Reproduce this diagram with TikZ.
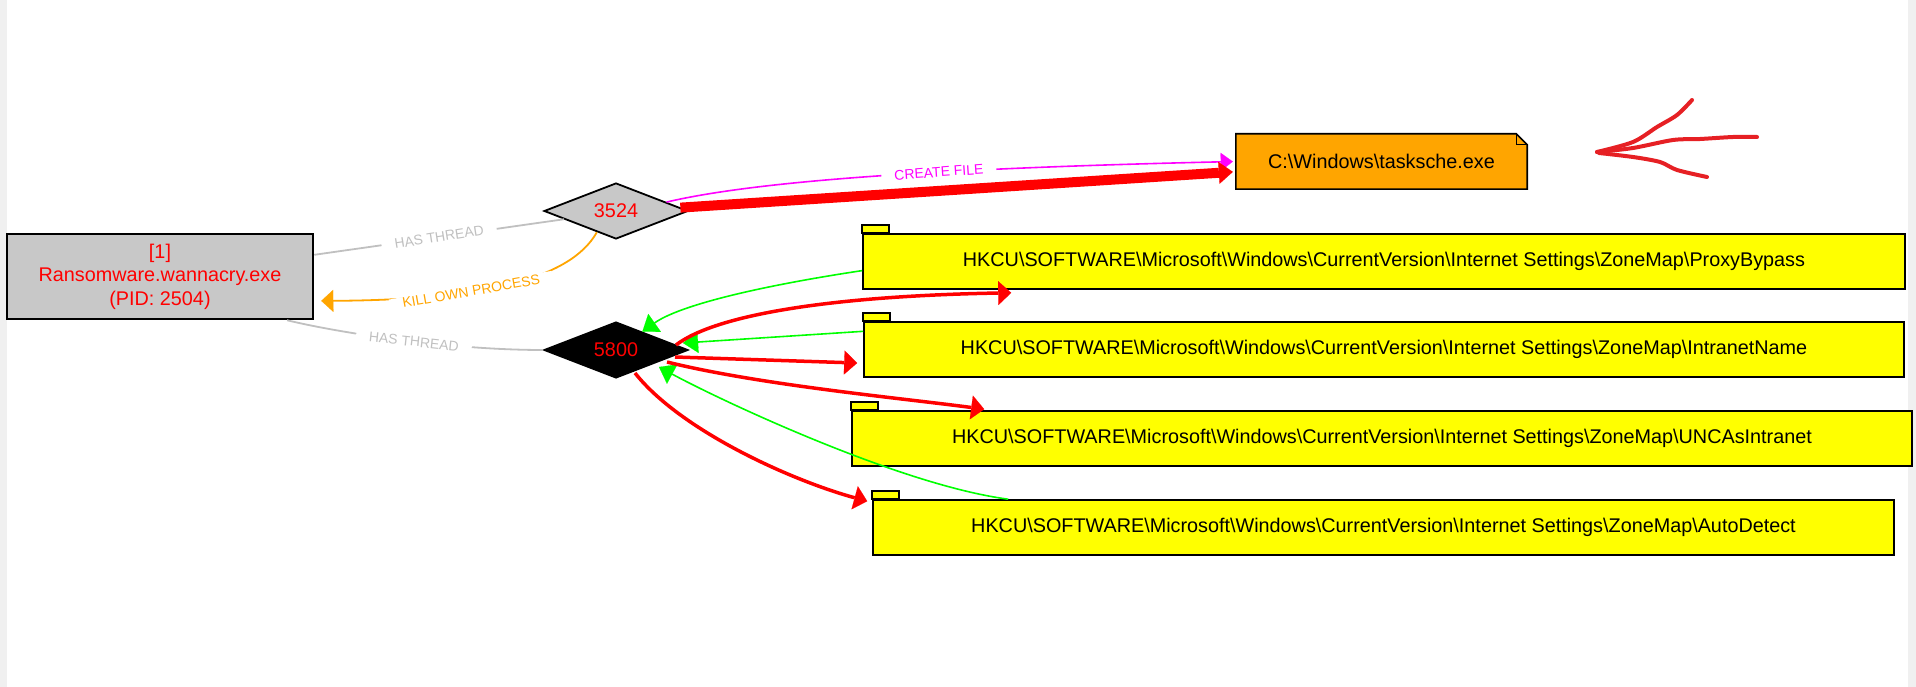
\documentclass[tikz,border=0pt]{standalone}
\usepackage{fontspec}
\setmainfont{Liberation Sans}
\usetikzlibrary{arrows.meta,shapes.geometric,backgrounds,calc}

\definecolor{procgray}{RGB}{200,200,200}
\definecolor{edgegray}{RGB}{192,192,192}
\definecolor{taskorange}{RGB}{255,165,0}
\definecolor{scribred}{RGB}{230,32,36}
\definecolor{sidegray}{RGB}{240,240,240}
\definecolor{keyyellow}{RGB}{255,255,0}
\definecolor{createpink}{RGB}{255,0,255}
\definecolor{readgreen}{RGB}{0,255,0}
\definecolor{writered}{RGB}{255,0,0}

\newcommand{\zonemap}{HKCU\textbackslash SOFTWARE\textbackslash Microsoft\textbackslash Windows\textbackslash CurrentVersion\textbackslash Internet Settings\textbackslash ZoneMap\textbackslash}

\begin{document}
\begin{tikzpicture}[x=1pt,y=1pt,yscale=-1,xscale=1,
  every node/.style={font=\fontsize{19.8}{23.5}\selectfont},
  procbox/.style={draw=black,line width=2.5pt,fill=procgray,text=writered,align=center,minimum width=306pt,minimum height=85pt,inner sep=0pt},
  thread/.style={diamond,draw=black,line width=1.8pt,aspect=2.57,minimum width=144pt,minimum height=56pt,inner sep=0pt,text=writered},
  regbox/.style={draw=black,line width=1.6pt,fill=keyyellow,minimum height=55pt,inner sep=0pt},
  filebox/.style={minimum width=291pt,minimum height=55pt,inner sep=0pt},
  elabel/.style={font=\fontsize{14}{16}\selectfont,fill=white,inner xsep=13pt,inner ysep=1pt},
  hasthread/.style={draw=edgegray,line width=1.8pt},
  writes/.style={draw=writered,line width=3.5pt,-{Triangle[length=13pt,width=24pt,line width=0.1pt]}},
  reads/.style={draw=readgreen,line width=1.6pt,-{Triangle[length=15pt,width=22pt,line width=0.1pt]}}
]
\useasboundingbox (0,0) rectangle (1916,687);

%Shape: side strips
\fill[sidegray] (0,0) rectangle (7,687);
\fill[sidegray] (1908,0) rectangle (1916,687);

%Shape: process box
\node (proc) [procbox] at (160,276.5) {[1]\\Ransomware.wannacry.exe\\(PID: 2504)};

%Shape: threads
\node (t3524) [thread,fill=procgray] at (616,211) {3524};
\node (t5800) [thread,fill=black] at (616,350) {5800};

%Shape: file note
\node (task) [filebox] at (1381.5,161.5) {C:\textbackslash Windows\textbackslash tasksche.exe};
\begin{scope}[on background layer]
\draw[fill=taskorange,line width=1.6pt] (task.south west) -- (task.north west) -- ($(task.north east)+(-11,0)$) -- ($(task.north east)+(0,11)$) -- (task.south east) -- cycle;
\draw[line width=1.2pt] ($(task.north east)+(-11,0)$) -- ($(task.north east)+(-11,11)$) -- ($(task.north east)+(0,11)$);
\end{scope}

%Shape: registry keys
\node (rproxy) [regbox,minimum width=1042pt] at (1384,261.5) {\zonemap ProxyBypass};
\node (rintra) [regbox,minimum width=1040pt] at (1384,349.5) {\zonemap IntranetName};
\node (runc) [regbox,minimum width=1060pt] at (1382,438.5) {\zonemap UNCAsIntranet};
\node (rauto) [regbox,minimum width=1021pt] at (1383.5,527.5) {\zonemap AutoDetect};
\foreach \reg in {rproxy,rintra,runc,rauto}
  \draw[fill=keyyellow,line width=1.6pt] (\reg.north west) rectangle ($(\reg.north west)+(27,-8)$);

%Lines: process and threads
\draw[hasthread] (proc.8) -- node[elabel,rotate=9,text=edgegray] {HAS THREAD} (t3524.189);
\draw[hasthread] (proc.341.9) .. controls (340,333) and (450,350) .. node[elabel,pos=0.55,rotate=-6,text=edgegray] {HAS THREAD} (t5800.west);
\draw[draw=taskorange,line width=1.8pt,-{Triangle[length=12pt,width=22pt,line width=0.1pt]},shorten >=7pt] (t3524.228) .. controls (570,280) and (480,300) .. node[elabel,pos=0.62,rotate=10,text=taskorange] {KILL OWN PROCESS} (proc.351.3);

%Lines: file
\draw[draw=createpink,line width=1.6pt,-{Triangle[length=12pt,width=18pt,line width=0.1pt]},shorten >=3pt] (t3524.10) .. controls (760,180) and (950,168) .. node[elabel,pos=0.6,rotate=4,text=createpink] {CREATE FILE} (task.west);
\draw[draw=writered,line width=10pt,-{Triangle[length=14pt,width=22pt,line width=0.1pt]},shorten >=3pt] (t3524.3) -- (task.184.5);

%Lines: registry reads
\draw[reads] (rproxy.181.4) .. controls (760,286) and (680,305) .. (t5800.35);
\draw[reads] (rintra.178.8) -- ($(t5800.center)+(67,-7)$);
\draw[reads] ($(rauto.north west)+(136,0)$) .. controls (900,485) and (720,400) .. ($(t5800.center)+(43,17)$);

%Lines: registry writes
\draw[writes] ($(t5800.center)+(60,-5)$) .. controls (715,315) and (830,296) .. ($(rproxy.south west)+(149,3)$);
\draw[writes] ($(t5800.center)+(59,7)$) -- ($(rintra.west)+(-6,13.5)$);
\draw[writes] ($(t5800.center)+(51,12)$) .. controls (760,385) and (900,398) .. ($(runc.north west)+(133,-1)$);
\draw[writes] ($(t5800.center)+(19,23)$) .. controls (680,430) and (790,480) .. ($(rauto.north west)+(-5,2)$);

%Shape: hand drawn arrow
\draw[scribred,line width=4pt,line cap=round,line join=round] plot[smooth] coordinates {(1597,152) (1633,142) (1657,127) (1677,115) (1692,100)};
\draw[scribred,line width=4pt,line cap=round,line join=round] plot[smooth] coordinates {(1597,152) (1633,148) (1673,140) (1700,139) (1733,137) (1757,137)};
\draw[scribred,line width=4pt,line cap=round,line join=round] plot[smooth] coordinates {(1599,153) (1633,157) (1660,162) (1677,170) (1707,177)};

\end{tikzpicture}
\end{document}
